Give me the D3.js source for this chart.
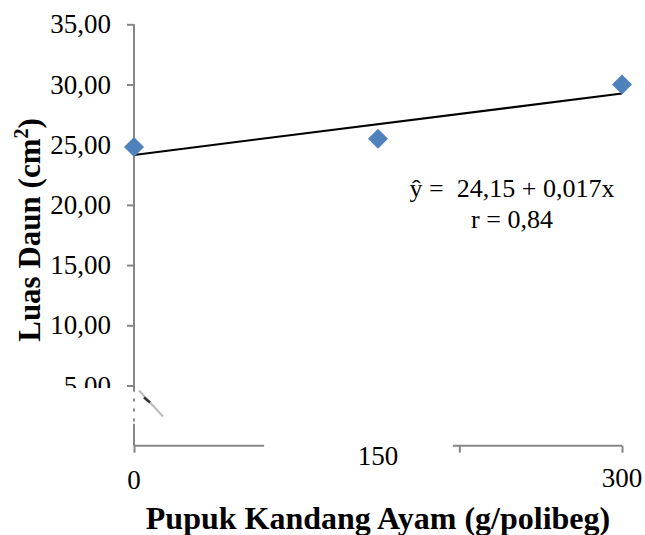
<!DOCTYPE html>
<html><head><meta charset="utf-8">
<script src="https://cdn.jsdelivr.net/npm/d3@7"></script>
<style>body{margin:0;background:#fff}svg{display:block}</style>
</head><body>
<script>
const doses = [0, 150, 300];
const leafArea = [24.8, 25.5, 30.0];
const yTicks = [0, 5, 10, 15, 20, 25, 30, 35];
const xTickLabels = ["0", "150", "300"];
const intercept = 24.15, slope = 0.017;
const eqLines = ["ŷ =  24,15 + 0,017x", "r = 0,84"];

const W = 645, H = 535;
const FONT = "Liberation Serif, Times New Roman, serif";
const svg = d3.select("body").append("svg").attr("width", W).attr("height", H);
const x = d3.scaleLinear().domain([0, 300]).range([134, 622]);
const y = d3.scaleLinear().domain([0, 35]).range([445.7, 24.3]);
const axisCol = "#868686";
const fmt = v => d3.format(".2f")(v).replace(".", ",");

// y axis
const ya = svg.append("g").attr("transform", `translate(${x(0)},0)`)
  .call(d3.axisLeft(y).tickValues(yTicks.slice(1)).tickSize(7).tickPadding(16).tickFormat(fmt));
ya.select(".domain").attr("stroke", axisCol).attr("stroke-width", 2).attr("d", `M0,${y(35)}V${y(0)}`);
ya.selectAll(".tick line").attr("stroke", axisCol).attr("stroke-width", 2);
ya.selectAll(".tick text").attr("font-family", FONT).attr("font-size", 27).attr("fill", "#000");

// x axis
const xa = svg.append("g").attr("transform", `translate(0,${y(0)})`)
  .call(d3.axisBottom(x).tickValues([0, 200, 300]).tickSize(7).tickFormat(""));
xa.select(".domain").attr("stroke", axisCol).attr("stroke-width", 2).attr("d", `M${x(0)},0H${x(300)}`);
xa.selectAll(".tick line").attr("stroke", axisCol).attr("stroke-width", 2);
// gap in the x axis line
svg.append("rect").attr("x", x(80)).attr("y", y(0) - 3).attr("width", x(196) - x(80)).attr("height", 12).attr("fill", "#fff");

// x tick labels
const xLabelY = [480, 456, 478];
svg.selectAll("text.xl").data(doses).join("text").attr("class", "xl")
  .attr("x", d => x(d)).attr("y", (d, i) => xLabelY[i]).attr("dy", "0.35em")
  .attr("text-anchor", "middle").attr("font-family", FONT)
  .attr("font-size", 27).text((d, i) => xTickLabels[i]);

// white patch over 5,00 label bottom and smudge
svg.append("rect").attr("x", 60).attr("y", 388).attr("width", 70).attr("height", 20).attr("fill", "#fff");
svg.append("path").attr("d", `M${x(0)-4},${y(5)+3} L${x(0)+34},${y(5)+30} L${x(0)+26},${y(5)+40} L${x(0)-4},${y(5)+38} Z`).attr("fill", "#fff");
svg.append("line").attr("x1", x(0)).attr("x2", x(0)).attr("y1", y(5) + 3).attr("y2", y(5) + 38)
  .attr("stroke", axisCol).attr("stroke-width", 2).attr("stroke-dasharray", "3,7");
svg.append("line").attr("x1", x(0) + 5).attr("y1", y(5) + 5).attr("x2", x(0) + 29).attr("y2", y(5) + 31)
  .attr("stroke", "#bbb").attr("stroke-width", 2);
svg.append("line").attr("x1", x(0) + 10).attr("y1", y(5) + 12).attr("x2", x(0) + 16).attr("y2", y(5) + 17)
  .attr("stroke", "#333").attr("stroke-width", 2.5);

// regression line
svg.append("line").attr("x1", x(0)).attr("y1", y(intercept)).attr("x2", x(300)).attr("y2", y(intercept + slope * 300))
  .attr("stroke", "#000").attr("stroke-width", 2);

// points
svg.selectAll("path.pt").data(doses).join("path").attr("class", "pt")
  .attr("d", d3.symbol(d3.symbolSquare, 200)())
  .attr("transform", (d, i) => `translate(${x(d)},${y(leafArea[i])}) rotate(45)`)
  .attr("fill", "#4F81BD");

// equation
svg.selectAll("text.eq").data(eqLines).join("text").attr("class", "eq")
  .attr("x", 512).attr("y", (d, i) => 197 + i * 31).attr("text-anchor", "middle")
  .attr("font-family", FONT).attr("font-size", 26)
  .attr("xml:space", "preserve").style("white-space", "pre").text(d => d);

// axis titles
svg.append("text").attr("x", 378).attr("y", 529).attr("text-anchor", "middle")
  .attr("font-family", FONT).attr("font-weight", "bold").attr("font-size", 32)
  .text("Pupuk Kandang Ayam (g/polibeg)");
const yt = svg.append("text").attr("transform", "translate(40,230) rotate(-90)").attr("text-anchor", "middle")
  .attr("font-family", FONT).attr("font-weight", "bold").attr("font-size", 31);
yt.append("tspan").text("Luas Daun (cm");
yt.append("tspan").attr("font-size", 20).attr("dy", -12).text("2");
yt.append("tspan").attr("dy", 12).text(")");
</script>
</body></html>
